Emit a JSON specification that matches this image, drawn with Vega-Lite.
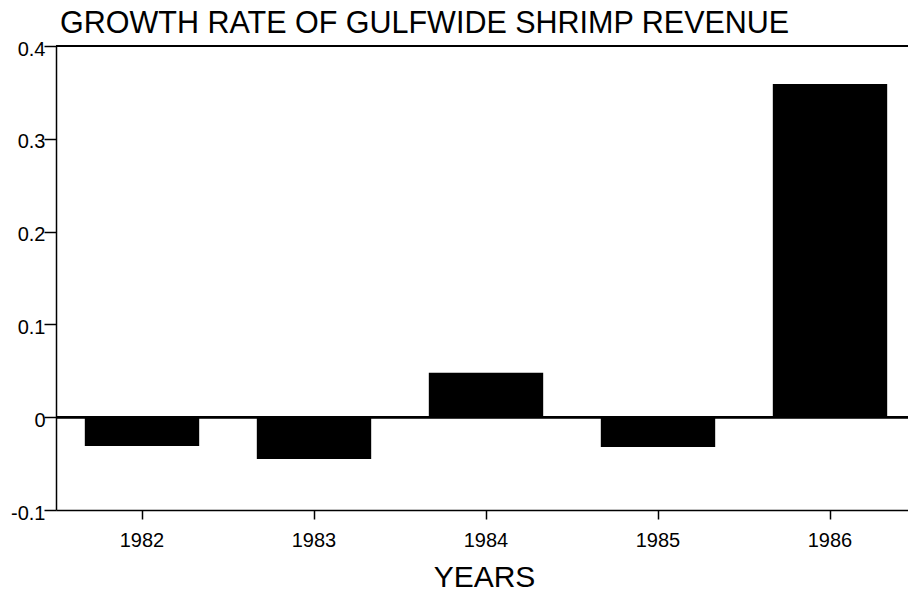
{
  "$schema": "https://vega.github.io/schema/vega-lite/v6.json",
  "autosize": "none",
  "width": 860,
  "height": 464,
  "padding": {"left": 56, "top": 46, "right": 0, "bottom": 82},
  "background": "white",
  "config": {"view": {"stroke": null}, "font": "Liberation Sans"},
  "title": {
    "text": "GROWTH RATE OF GULFWIDE SHRIMP REVENUE",
    "anchor": "start",
    "frame": "group",
    "fontSize": 30.5,
    "fontWeight": "normal",
    "font": "Liberation Sans",
    "color": "black",
    "offset": 0,
    "dx": 4
  },
  "data": {
    "values": [
      {"year": "1982", "rate": -0.031},
      {"year": "1983", "rate": -0.045},
      {"year": "1984", "rate": 0.048},
      {"year": "1985", "rate": -0.032},
      {"year": "1986", "rate": 0.359}
    ]
  },
  "layer": [
    {
      "mark": {"type": "bar", "color": "black"},
      "encoding": {
        "x": {
          "field": "year",
          "type": "ordinal",
          "scale": {"paddingInner": 0.335, "paddingOuter": 0.1675},
          "axis": {
            "title": "YEARS",
            "labelAngle": 0,
            "grid": false,
            "tickSize": 9,
            "tickWidth": 1.5,
            "tickColor": "black",
            "labelPadding": 11,
            "labelFontSize": 20,
            "labelColor": "black",
            "domainColor": "black",
            "domainWidth": 1.5,
            "titleFontSize": 30,
            "titleFontWeight": "normal",
            "titleColor": "black",
            "titleBaseline": "alphabetic",
            "titleY": 76,
            "titleX": 428,
            "encode": {"ticks": {"update": {"y2": {"value": -9}}}}
          }
        },
        "y": {
          "field": "rate",
          "type": "quantitative",
          "scale": {"domain": [-0.1, 0.4], "nice": false, "zero": false},
          "axis": {
            "title": null,
            "values": [-0.1, 0, 0.1, 0.2, 0.3, 0.4],
            "labelExpr": "datum.value == 0 ? '0' : (datum.value < 0 ? '-' + format(-datum.value, '.1f') : format(datum.value, '.1f'))",
            "grid": false,
            "tickSize": 12,
            "tickWidth": 1.5,
            "tickColor": "black",
            "labelPadding": -1,
            "labelOffset": 3,
            "labelFontSize": 20,
            "labelColor": "black",
            "domainColor": "black",
            "domainWidth": 1.5,
            "encode": {"ticks": {"update": {"x2": {"value": 12}}}}
          }
        }
      }
    },
    {
      "mark": {"type": "rule", "color": "black", "strokeWidth": 2},
      "encoding": {"y": {"datum": 0}}
    },
    {
      "mark": {"type": "rule", "color": "black", "strokeWidth": 1.5},
      "encoding": {"y": {"datum": 0.4}}
    }
  ]
}
